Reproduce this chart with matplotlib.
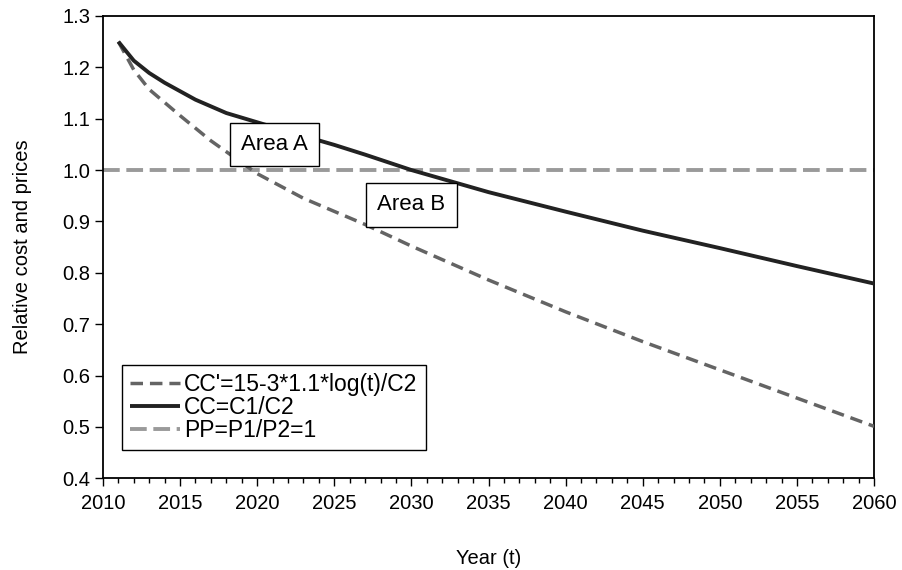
import matplotlib
matplotlib.use("Agg")
import matplotlib.pyplot as plt
from matplotlib.ticker import MultipleLocator, FormatStrFormatter

plt.rcParams['font.family'] = ['Liberation Sans', 'DejaVu Sans']

# Data
years_cc = [2011, 2012, 2013, 2014, 2016, 2018, 2020, 2022, 2025, 2027, 2030,
            2035, 2040, 2045, 2050, 2055, 2060]
cc = [1.250, 1.213, 1.189, 1.170, 1.137, 1.111, 1.093, 1.075, 1.049, 1.030, 1.000,
      0.957, 0.919, 0.882, 0.848, 0.813, 0.779]

years_ccp = [2011, 2012, 2013, 2015, 2017, 2020, 2023, 2027, 2030,
             2035, 2040, 2045, 2050, 2055, 2060]
ccp = [1.250, 1.195, 1.157, 1.106, 1.057, 0.993, 0.945, 0.894, 0.852,
       0.786, 0.724, 0.666, 0.611, 0.556, 0.501]

years_pp = [2010, 2060]
pp = [1.0, 1.0]

labels = ["CC'=15-3*1.1*log(t)/C2", "CC=C1/C2", "PP=P1/P2=1"]
areas = [("Area A", 2021.1, 1.050), ("Area B", 2030.0, 0.932)]

fig = plt.figure(figsize=(9.03, 5.70), dpi=100)
ax = fig.add_axes([0.114, 0.161, 0.854, 0.811])

l1, = ax.plot(years_ccp, ccp, color='#646464', lw=2.5, dashes=(3.6, 2.0),
              dash_capstyle='butt', label=labels[0], zorder=3)
l2, = ax.plot(years_cc, cc, color='#222222', lw=2.8, label=labels[1],
              solid_capstyle='butt', zorder=4)
l3, = ax.plot(years_pp, pp, color='#9a9a9a', lw=2.8, dashes=(4.3, 1.7),
              dash_capstyle='butt', label=labels[2], zorder=2)

for txt, x, y in areas:
    ax.text(x, y, txt, ha='center', va='center', fontsize=16, zorder=6,
            bbox=dict(boxstyle='square,pad=0.5', facecolor='white',
                      edgecolor='black', linewidth=1.0))

ax.set_xlim(2010, 2060)
ax.set_ylim(0.4, 1.3)
ax.xaxis.set_major_locator(MultipleLocator(5))
ax.xaxis.set_minor_locator(MultipleLocator(1))
ax.yaxis.set_major_locator(MultipleLocator(0.1))
ax.yaxis.set_major_formatter(FormatStrFormatter('%.1f'))
ax.tick_params(axis='both', which='major', direction='out', length=5.5,
               width=1, labelsize=14.5, color='black')
ax.tick_params(axis='x', which='minor', direction='out', length=3.5, width=1)
ax.tick_params(axis='x', pad=6)
for s in ax.spines.values():
    s.set_linewidth(1.3)
    s.set_color('black')

ax.set_xlabel('Year (t)', fontsize=14.5, labelpad=26)
ax.set_ylabel('Relative cost and prices', fontsize=14.5, labelpad=22)

leg = ax.legend(handles=[l1, l2, l3], loc='lower left',
                bbox_to_anchor=(0.0246, 0.0606), borderaxespad=0,
                fontsize=16.5, frameon=True, fancybox=False, shadow=False,
                framealpha=1, edgecolor='black', handlelength=2.17,
                handletextpad=0.2, labelspacing=0.0, borderpad=0.35)
leg.get_frame().set_linewidth(1.0)

fig.savefig('out.png', dpi=100)
